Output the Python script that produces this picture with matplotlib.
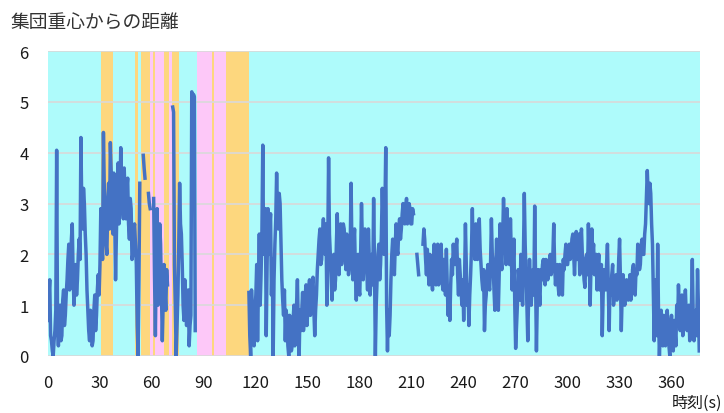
import matplotlib
matplotlib.use("Agg")
import matplotlib.pyplot as plt
import numpy as np

plt.rcParams["font.family"] = ["Noto Sans CJK JP", "DejaVu Sans"]

# ── Data: distance read at every whole second (d_) and half second (h_) ──────
# None = no measurement
d_000 = [0.7, 1.5, 0.3, 0.0, 0.5, 4.05, 0.2, 1.0, 0.4, 1.3, 0.8, 1.5, 2.2, 1.6, 2.6,
         1.0, 1.8, 1.5, 2.3, 4.3, 2.5, 3.0, 2.0, 0.9, 0.3, 0.6, 0.3, 1.2, 0.8, 1.6]
h_000 = [1.2, 0.4, 0.1, 0.3, 0.9, 0.6, 0.8, 0.3, 1.1, 0.6, 1.2, 1.9, 1.3, 2.3, 1.6,
         1.4, 1.2, 2.0, 1.9, 2.9, 3.3, 2.4, 1.3, 0.5, 0.9, 0.2, 0.9, 0.5, 1.3, 1.2]
d_030 = [1.8, 2.4, 4.4, 2.8, 2.0, 3.4, 4.2, 3.0, 3.6, 1.5, 3.3, 2.6, 4.1, 3.2, 3.7,
         2.7, 3.5, 2.3, 2.9, 2.0, 2.6, 1.8, 0.0, 3.4, None, 3.95, 3.5, None, 3.2, 2.9]
h_030 = [2.9, 1.9, 3.3, 2.2, 3.0, 2.5, 3.6, 2.4, 2.8, 2.4, 3.8, 3.0, 3.5, 2.7, 3.1,
         3.3, 2.6, 3.1, 1.9, 2.5, 2.2, 0.6, 1.5, None, None, 3.7, None, None, 3.0, None]
d_060 = [None, 3.1, 0.4, 2.9, 1.5, 2.2, 0.3, 1.8, 0.9, 1.4, None, None, 4.9, 1.8, 0.0,
         1.2, 3.4, 2.4, 1.0, 1.5, 0.6, 1.3, 0.6, 5.2, 5.15, 0.5, None, None, None, None]
h_060 = [None, 1.6, 1.9, 1.0, 2.6, 1.2, 1.1, 1.3, 1.7, None, None, None, 4.8, 1.0, 0.6,
         2.2, 2.6, 1.8, 0.7, 1.1, 1.0, 0.2, 0.8, 5.0, 5.1, None, None, None, None, None]
d_090 = [None] * 26 + [1.25, 0.0, 0.9, 0.2]
h_090 = [None] * 26 + [0.4, 1.3, 0.3, 0.9]
d_120 = [1.2, 0.3, 2.4, 1.6, 4.15, 2.6, 0.4, 2.9, 2.5, 1.2, 0.0, 2.2, 3.6, 2.5, 3.0,
         1.5, 0.8, 0.3, 0.7, 0.0, 0.6, 0.2, 1.0, 0.5, 1.5, 0.0, 0.5, 1.25, 0.8, 1.4]
h_120 = [1.8, 1.4, 1.0, 2.4, 2.0, 2.9, 1.8, 2.0, 2.8, 1.9, 1.5, 2.7, 2.8, 3.2, 2.2,
         1.1, 1.3, 0.9, 0.2, 0.8, 0.1, 0.7, 0.2, 1.0, 0.6, 0.9, 0.9, 0.5, 1.2, 0.6]
d_150 = [0.9, 1.5, 1.0, 1.55, 0.4, 1.2, 2.0, 2.5, 1.9, 2.7, 2.0, 1.0, 3.9, 2.0, 1.1,
         2.0, 1.5, 2.8, 1.6, 2.6, 2.2, 2.5, 1.7, 2.3, 1.8, 3.4, 1.5, 2.5, 1.1, 2.0]
h_150 = [1.3, 0.8, 1.4, 0.9, 0.9, 1.7, 2.3, 1.8, 2.4, 2.2, 2.6, 2.1, 2.4, 1.5, 1.8,
         1.3, 2.2, 2.1, 2.3, 1.8, 2.6, 2.0, 2.4, 1.6, 2.2, 2.0, 2.2, 1.6, 1.7, 1.3]
d_180 = [1.2, 3.0, 1.5, 2.5, 1.8, 2.5, 1.2, 2.0, 3.1, 0.0, 1.5, 2.2, 1.8, 3.3, 2.0,
         4.1, 0.1, 0.4, 1.5, 2.3, 1.6, 2.6, 2.0, 2.7, 2.5, 3.0, 2.6, 3.1, 2.7, 2.9]
h_180 = [2.0, 2.2, 1.9, 2.1, 1.3, 1.9, 1.6, 1.4, 1.8, 1.0, 2.0, 1.5, 2.4, 2.6, 2.8,
         1.0, 0.9, 0.8, 2.0, 1.8, 2.2, 2.1, 2.5, 2.3, 2.8, 2.7, 2.9, 2.6, 3.0, 2.6]
d_210 = [2.6, 2.8, None, 2.0, 1.6, None, None, 2.5, 1.9, 2.1, 1.4, 1.9, 1.3, 2.2, 1.4,
         2.2, 1.6, 2.2, 1.3, 1.5, 2.1, 0.8, 0.7, 1.9, 2.2, 1.8, 2.3, 1.2, 1.6, 1.0]
h_210 = [2.9, None, None, 1.8, None, None, 2.2, 2.3, 1.6, 1.7, 2.0, 1.5, 1.8, 1.7, 1.9,
         1.4, 2.0, 1.5, 1.9, 1.2, 1.4, 1.2, 1.4, 1.6, 1.9, 2.1, 1.6, 1.9, 1.3, 1.5]
d_240 = [0.7, 2.6, 1.0, 0.6, 1.6, 2.9, 2.3, 2.6, 1.9, 2.7, 1.8, 1.3, 0.5, 1.2, 1.8,
         1.3, 2.7, 1.8, 0.9, 2.3, 0.9, 2.6, 1.7, 3.1, 2.2, 2.9, 2.2, 2.7, 1.3, 2.3]
h_240 = [1.5, 1.8, 1.4, 1.2, 2.1, 2.0, 1.9, 2.2, 2.3, 2.1, 1.5, 1.7, 1.0, 1.6, 1.4,
         1.8, 2.0, 1.3, 1.7, 1.4, 1.6, 2.0, 2.3, 2.4, 1.8, 2.4, 1.8, 2.0, 1.8, 1.0]
d_270 = [0.15, 1.0, 1.5, 2.0, 1.0, 3.2, 1.6, 0.3, 1.9, 1.0, 1.7, 2.95, 0.1, 1.7, 1.0,
         1.5, 1.9, 1.4, 1.8, 1.6, 2.0, 1.7, 2.6, 1.4, 1.8, 1.2, 1.6, 1.2, 1.7, 2.2]
h_270 = [0.6, 1.7, 1.1, 1.6, 2.0, 2.2, 1.0, 1.2, 1.4, 1.5, 1.2, 1.6, 1.1, 1.3, 1.7,
         1.8, 1.5, 1.9, 1.5, 1.9, 1.6, 2.0, 1.8, 1.7, 1.4, 1.8, 1.3, 1.9, 2.0, 1.8]
d_300 = [1.8, 2.2, 2.0, 2.4, 1.6, 2.45, 2.3, 1.6, 2.5, 1.8, 1.35, 2.0, 2.6, 1.0, 2.5,
         2.2, 1.8, 1.3, 2.0, 1.5, 0.4, 1.7, 1.3, 2.2, 0.5, 1.2, 1.8, 1.2, 1.6, 1.3]
h_300 = [2.0, 1.9, 2.3, 2.0, 2.1, 1.9, 2.4, 2.2, 2.0, 1.5, 1.9, 1.6, 1.9, 1.8, 2.0,
         1.6, 2.0, 1.7, 1.3, 1.8, 1.2, 1.4, 1.8, 1.3, 1.5, 1.6, 1.0, 1.5, 1.1, 1.9]
d_330 = [2.3, 0.5, 1.6, 1.0, 1.5, 1.1, 1.6, 1.3, 1.8, 1.2, 1.6, 2.0, 1.8, 2.3, 2.0,
         2.6, 3.65, 3.0, 3.2, 2.2, 0.3, 1.0, 2.2, 0.0, 0.9, 0.2, 0.7, 0.3, 0.6, 0.0]
h_330 = [1.5, 1.2, 1.3, 1.4, 1.2, 1.4, 1.1, 1.7, 1.4, 1.7, 2.2, 1.7, 2.2, 2.0, 2.4,
         3.1, 3.2, 3.4, 2.6, 1.2, 1.5, 0.4, 0.8, 0.5, 0.4, 0.8, 0.2, 0.9, 0.2, 0.6]
d_360 = [0.8, 0.1, 0.5, 1.0, 1.4, 0.5, 1.2, 0.6, 1.3, 0.5, 1.0, 0.4, 1.9, 0.3, 0.9,
         1.7, 0.1]
h_360 = [0.3, 0.7, 0.2, 0.6, 0.9, 0.9, 0.4, 1.0, 0.8, 0.9, 0.3, 1.0, 0.8, 0.7, 0.4,
         1.0, None]

# phase bands (seconds)
band_start = [30.5, 50.2, 53.5, 58.9, 60.8, 61.7, 66.9, 70.0, 71.4, 85.8, 94.5, 95.8, 102.7]
band_end   = [37.3, 52.1, 58.9, 60.8, 61.7, 66.9, 70.0, 71.4, 75.8, 94.5, 95.8, 102.7, 116.2]
band_kind  = ["o", "o", "o", "p", "o", "p", "o", "p", "o", "p", "o", "p", "o"]

x_ticks = [0, 30, 60, 90, 120, 150, 180, 210, 240, 270, 300, 330, 360]

whole = (d_000 + d_030 + d_060 + d_090 + d_120 + d_150 + d_180 +
         d_210 + d_240 + d_270 + d_300 + d_330 + d_360)
half = (h_000 + h_030 + h_060 + h_090 + h_120 + h_150 + h_180 +
        h_210 + h_240 + h_270 + h_300 + h_330 + h_360)
dist = np.array([np.nan if v is None else v
                 for pair in zip(whole, half) for v in pair], dtype=float)
t = np.arange(len(dist)) * 0.5

# ── Figure ───────────────────────────────────────────────────────────────────
fig = plt.figure(figsize=(7.24, 4.14), dpi=100)
ax = fig.add_axes([0.0663, 0.1377, 0.9007, 0.7363])
ax.set_facecolor("#AEFBFB")

band_colors = {"o": "#FDD77E", "p": "#FDC8F8"}
for s, e, k in zip(band_start, band_end, band_kind):
    ax.axvspan(s, e, color=band_colors[k], lw=0, zorder=0.2)

ax.plot(t, dist, color="#4472C4", lw=2.5, zorder=3, solid_joinstyle="round")

ax.set_xlim(0, 376.5)
ax.set_ylim(0, 6)
ax.set_xticks(x_ticks)
ax.set_yticks(range(0, 7))
ax.set_axisbelow(True)
ax.grid(axis="y", color="#D9D9D9", lw=1.2, zorder=0.5)
for sp in ax.spines.values():
    sp.set_visible(False)
ax.tick_params(length=0, labelsize=12, colors="#1A1A1A")
ax.tick_params(axis="x", pad=13)
ax.tick_params(axis="y", pad=14)

fig.text(0.014, 0.945, "集団重心からの距離", ha="left", va="center",
         fontsize=13.5, color="#333333")
fig.text(0.998, 0.026, "時刻(s)", ha="right", va="center",
         fontsize=11.5, color="#1A1A1A")

fig.savefig("out.png", dpi=100, facecolor="white")
